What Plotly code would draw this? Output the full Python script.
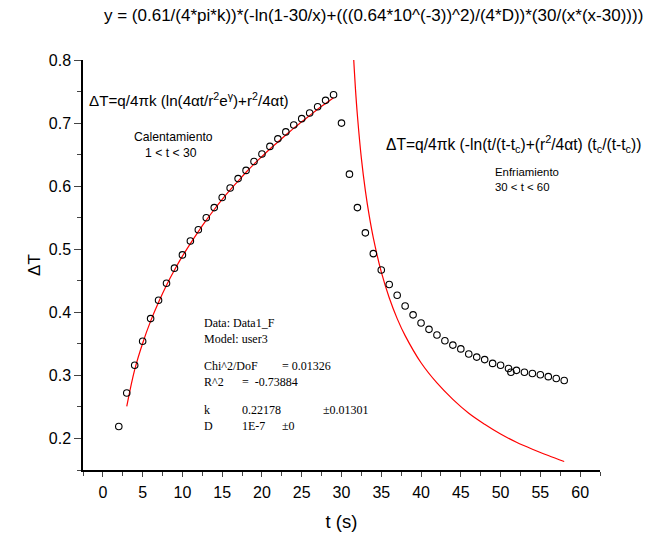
import plotly.graph_objects as go

# ---- data ----
t_heat = list(range(2, 30))
dT_heat = [0.219, 0.272, 0.316, 0.354, 0.390, 0.419, 0.446, 0.470, 0.491, 0.513,
           0.531, 0.550, 0.566, 0.582, 0.597, 0.612, 0.625, 0.639, 0.651, 0.663,
           0.675, 0.686, 0.697, 0.707, 0.716, 0.726, 0.736, 0.745]

t_cool = [30, 31, 32, 33, 34, 35, 36, 37, 38, 39, 40, 41, 42, 43, 44, 45, 46, 47,
          48, 49, 50, 51, 51.3, 52, 53, 54, 55, 56, 57, 58]
dT_cool = [0.700, 0.619, 0.566, 0.526, 0.493, 0.467, 0.444, 0.427, 0.410, 0.396,
           0.383, 0.373, 0.364, 0.355, 0.348, 0.342, 0.334, 0.329, 0.325, 0.319,
           0.316, 0.311, 0.305, 0.308, 0.305, 0.303, 0.301, 0.298, 0.295, 0.292]

fit_heat_t = [3, 4, 5, 6, 7, 8, 9, 10, 11, 12, 13, 14, 15, 16, 17, 18, 19, 20,
              21, 22, 23, 24, 25, 26, 27, 28, 29]
fit_heat_y = [0.251, 0.309, 0.351, 0.386, 0.416, 0.443, 0.467, 0.489, 0.509, 0.528,
              0.546, 0.563, 0.579, 0.594, 0.608, 0.622, 0.635, 0.647, 0.659, 0.670,
              0.681, 0.692, 0.702, 0.712, 0.722, 0.731, 0.740]

fit_cool_t = [31.5, 31.6, 31.75, 32, 32.5, 33, 33.5, 34, 35, 36, 37, 38, 40, 42,
              44, 46, 48, 50, 52, 54, 56, 58]
fit_cool_y = [0.809, 0.786, 0.755, 0.712, 0.644, 0.593, 0.552, 0.518, 0.464, 0.423,
              0.390, 0.363, 0.320, 0.288, 0.262, 0.240, 0.2225, 0.207, 0.194, 0.183,
              0.173, 0.1635]

x_ticks = list(range(0, 61, 5))
y_ticks = [0.2, 0.3, 0.4, 0.5, 0.6, 0.7, 0.8]

# ---- layout geometry (pixels) ----
W, H = 656, 541
L, R, T, B = 83, 600, 60, 479


def px(x):
    return (x - L) / (R - L)


def py(y):
    return (B - y) / (B - T)


fig = go.Figure()
fig.add_trace(go.Scatter(x=fit_heat_t, y=fit_heat_y, mode="lines",
                         line=dict(color="red", width=1.2, shape="spline"),
                         showlegend=False, hoverinfo="skip"))
fig.add_trace(go.Scatter(x=fit_cool_t, y=fit_cool_y, mode="lines",
                         line=dict(color="red", width=1.2, shape="spline"),
                         showlegend=False, hoverinfo="skip"))
fig.add_trace(go.Scatter(x=t_heat, y=dT_heat, mode="markers",
                         marker=dict(symbol="circle-open", size=6.5, color="black",
                                     line=dict(width=1.1)),
                         showlegend=False, cliponaxis=False))
fig.add_trace(go.Scatter(x=t_cool, y=dT_cool, mode="markers",
                         marker=dict(symbol="circle-open", size=6.5, color="black",
                                     line=dict(width=1.1)),
                         showlegend=False, cliponaxis=False))

sans = "Arial, Liberation Sans, sans-serif"
serif = "Times New Roman, Liberation Serif, serif"

ann = []


def text(x, y, s, size, family=sans, xanchor="left"):
    ann.append(dict(x=px(x), y=py(y), xref="paper", yref="paper", text=s,
                    showarrow=False, xanchor=xanchor, yanchor="middle",
                    font=dict(size=size, family=family, color="black")))


text(373, 15, "y = (0.61/(4*pi*k))*(-ln(1-30/x)+(((0.64*10^(-3))^2)/(4*D))*(30/(x*(x-30))))",
     17, xanchor="center")
text(87, 100, "ΔT=q/4πk (ln(4αt/r<sup>2</sup>e<sup>γ</sup>)+r<sup>2</sup>/4αt)", 15.2)
text(132, 139, "Calentamiento", 12.2)
text(143, 155, "1 &lt; t &lt; 30", 12.2)
text(384, 146, "ΔT=q/4πk (-ln(t/(t-t<sub>c</sub>)+(r<sup>2</sup>/4αt) (t<sub>c</sub>/(t-t<sub>c</sub>))", 15.6)
text(493, 174, "Enfriamiento", 11.4)
text(493, 190, "30 &lt; t &lt; 60", 11.4)

fs = 12
text(202, 329, "Data: Data1_F", fs, serif)
text(202, 345, "Model: user3", fs, serif)
text(202, 373, "Chi^2/DoF", fs, serif)
text(280, 373, "= 0.01326", fs, serif)
text(202, 389, "R^2", fs, serif)
text(240, 389, "=  -0.73884", fs, serif)
text(202, 418, "k", fs, serif)
text(240, 418, "0.22178", fs, serif)
text(321, 418, "±0.01301", fs, serif)
text(202, 434, "D", fs, serif)
text(240, 434, "1E-7", fs, serif)
text(280, 434, "±0", fs, serif)

fig.update_layout(
    width=W, height=H,
    margin=dict(l=L, r=W - R, t=T, b=H - B, pad=0),
    paper_bgcolor="white", plot_bgcolor="white",
    font=dict(family=sans, color="black"),
    annotations=ann,
    showlegend=False,
)
fig.update_xaxes(
    range=[-2.5, 62.5], tickvals=x_ticks, ticks="outside", ticklen=5, tickwidth=1,
    showline=True, linecolor="black", linewidth=1.5, showgrid=False, zeroline=False,
    tickfont=dict(size=16, family=sans), ticklabelstandoff=2,
    minor=dict(ticks="outside", ticklen=4, tickwidth=1, dtick=2.5, tick0=-2.5, showgrid=False),
    title=dict(text="t (s)", font=dict(size=18.5, family=sans), standoff=15),
)
fig.update_yaxes(
    range=[0.15, 0.8], tickvals=y_ticks, ticktext=[f"{v:.1f}" for v in y_ticks],
    ticks="outside", ticklen=7, tickwidth=1,
    showline=True, linecolor="black", linewidth=1.5, showgrid=False, zeroline=False,
    tickfont=dict(size=16, family=sans),
    minor=dict(ticks="outside", ticklen=4, tickwidth=1, dtick=0.05, tick0=0.15, showgrid=False),
    title=dict(text="ΔT", font=dict(size=17, family=sans), standoff=4),
)

fig.write_html("out.html")
